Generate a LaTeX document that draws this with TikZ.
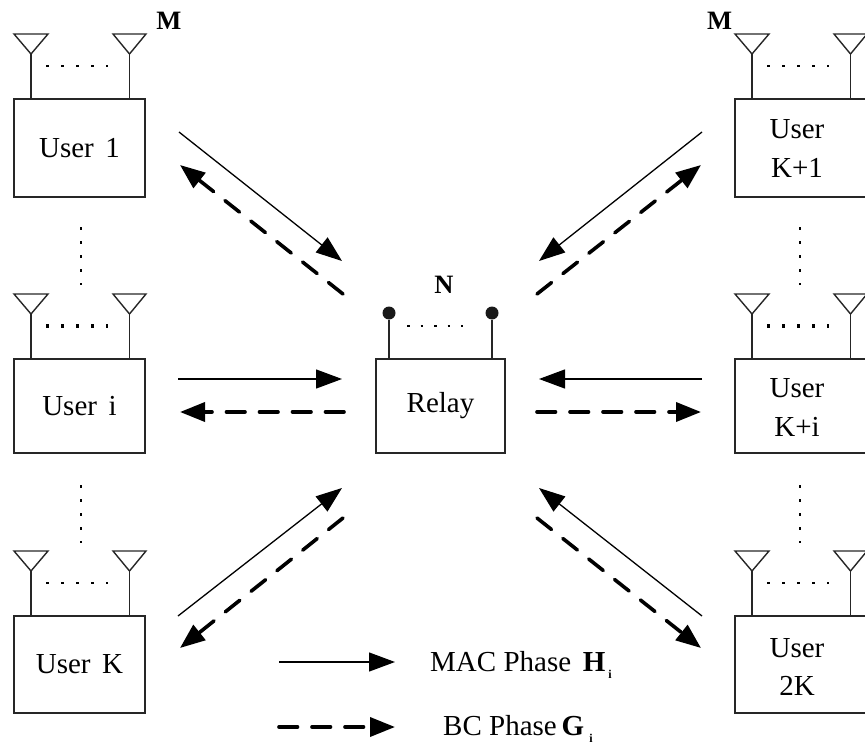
\documentclass[tikz,border=0pt]{standalone}
\usepackage{fontspec}
\setmainfont{Liberation Serif}
\usetikzlibrary{arrows.meta,calc}
\tikzset{
  x=1pt,y=-1pt,
  ubox/.style={draw=black!85,line width=1.5pt,outer sep=0pt,minimum width=131pt,inner sep=0pt,align=center,font=\fontsize{29}{39}\selectfont,anchor=north west},
  rtext/.style={inner sep=0pt,align=center,font=\fontsize{29}{39}\selectfont},
  ant/.style={draw=black!85,line width=1.4pt,line join=miter},
  mastl/.style={draw=black!85,line width=1.4pt},
  dotrow/.style={draw=black,line width=2.5pt,dash pattern=on 2.5pt off 12.5pt},
  reldots/.style={draw=black,line width=2.5pt,dash pattern=on 2.5pt off 11pt},
  vdots/.style={draw=black,line width=2.5pt,dash pattern=on 2.5pt off 11.5pt},
  sol/.style={draw=black,line width=1.3pt,-{Triangle[length=26pt,width=19pt]}},
  das/.style={draw=black,line width=3.6pt,line cap=round,dash pattern=on 18.5pt off 14.5pt,-{Triangle[length=25pt,width=19pt]}},
  lab/.style={font=\fontsize{29}{34}\selectfont,inner sep=0pt},
  blab/.style={font=\fontsize{26.5}{30}\selectfont\bfseries,inner sep=0pt,anchor=base},
}
\newcommand{\antpair}[3]{% x of box left, y of box top, dot size
  \draw[ant] (#1,#2-65) -- ++(34,0) -- ++(-17,20) -- cycle;
  \draw[ant] (#1+99,#2-65) -- ++(33,0) -- ++(-16.5,20) -- cycle;
  \draw[mastl] (#1+17,#2-45) -- (#1+17,#2);
  \draw[mastl] (#1+115.5,#2-45) -- (#1+115.5,#2);
  \draw[dotrow,line width=#3] (#1+32,#2-33) -- (#1+94,#2-33);
}
\begin{document}
\begin{tikzpicture}
\useasboundingbox (0,0) rectangle (865,749);
\node[ubox,minimum height=98pt] (u1) at (14,99) {User\hspace{0.4em}1};
\node[ubox,minimum height=94pt] (ui) at (14,359) {User\hspace{0.4em}i};
\node[ubox,minimum height=97pt] (uk) at (14,616) {User\hspace{0.4em}K};
\node[ubox,minimum height=98pt] (uk1) at (735,99) {};
\node[ubox,minimum height=94pt] (uki) at (735,359) {};
\node[ubox,minimum height=97pt] (u2k) at (735,616) {};
\node[rtext] (t1k) at (797,149) {User\\K+1};
\node[rtext] (tik) at (797,408) {User\\K+i};
\node[rtext] (t2k) at (797,667) {User\\2K};
\node[ubox,minimum width=129pt,minimum height=94pt] (relay) at (376,359) {Relay};
\antpair{14}{99}{2.5pt}\antpair{14}{359}{3.6pt}\antpair{14}{616}{2.5pt}
\antpair{735}{99}{2.5pt}\antpair{735}{359}{3.6pt}\antpair{735}{616}{2.5pt}
\node[blab] (m1) at (169,30) {M};
\node[blab] (m2) at (719.5,30) {M};
\node[blab] (n) at (444,293) {N};
% relay antennas
\coordinate (ra) at (389,359);\coordinate (rb) at (492,359);
\node[circle,fill=black!90,inner sep=0pt,minimum size=13pt] (ra1) at (389,313) {};
\node[circle,fill=black!90,inner sep=0pt,minimum size=13pt] (rb1) at (492,313) {};
\draw[mastl] (ra1) -- (ra);
\draw[mastl] (rb1) -- (rb);
\draw[reldots] (407,326) -- (463,326);
% vertical dots
\coordinate (d1a) at (81,227);\coordinate (d1b) at (81,285);
\coordinate (d2a) at (81,485);\coordinate (d2b) at (81,543);
\coordinate (d3a) at (800,227);\coordinate (d3b) at (800,285);
\coordinate (d4a) at (800,485);\coordinate (d4b) at (800,543);
\foreach \a/\b in {d1a/d1b,d2a/d2b,d3a/d3b,d4a/d4b}
  \draw[vdots] (\a) -- (\b);
% arrows
\coordinate (a1) at (179,132);\coordinate (a2) at (342,261);
\coordinate (a3) at (343,294);\coordinate (a4) at (180,165);
\coordinate (b1) at (178,379);\coordinate (b2) at (342,379);
\coordinate (b3) at (344,412);\coordinate (b4) at (180,412);
\coordinate (c1) at (178,616);\coordinate (c2) at (342,488);
\coordinate (c3) at (343,518);\coordinate (c4) at (180,648);
\coordinate (e1) at (702,132);\coordinate (e2) at (539,261);
\coordinate (e3) at (537,294);\coordinate (e4) at (701,165);
\coordinate (f1) at (702,379);\coordinate (f2) at (539,379);
\coordinate (f3) at (537,412);\coordinate (f4) at (701,412);
\coordinate (g1) at (702,616);\coordinate (g2) at (539,488);
\coordinate (g3) at (537,518);\coordinate (g4) at (701,648);
\foreach \p/\q in {a1/a2,b1/b2,c1/c2,e1/e2,f1/f2,g1/g2} \draw[sol] (\p) -- (\q);
\foreach \p/\q in {a3/a4,b3/b4,c3/c4,e3/e4,f3/f4,g3/g4} \draw[das] (\p) -- (\q);
% legend
\coordinate (l1) at (279,662);\coordinate (l2) at (395,662);
\coordinate (l3) at (279,727);\coordinate (l4) at (395,727);
\draw[sol] (l1) -- (l2);
\draw[das] (l3) -- (l4);
\node[lab,anchor=base west] (t1) at (430,671) {MAC Phase\hspace{0.4em}\textbf{H}\raisebox{-7pt}{\fontsize{12}{12}\selectfont\hspace{3pt}\textbf{i}}};
\node[lab,anchor=base west] (t2) at (443,735) {BC Phase\hspace{0.17em}\textbf{G}\raisebox{-7pt}{\fontsize{12}{12}\selectfont\hspace{5pt}\textbf{i}}};
\end{tikzpicture}
\end{document}
